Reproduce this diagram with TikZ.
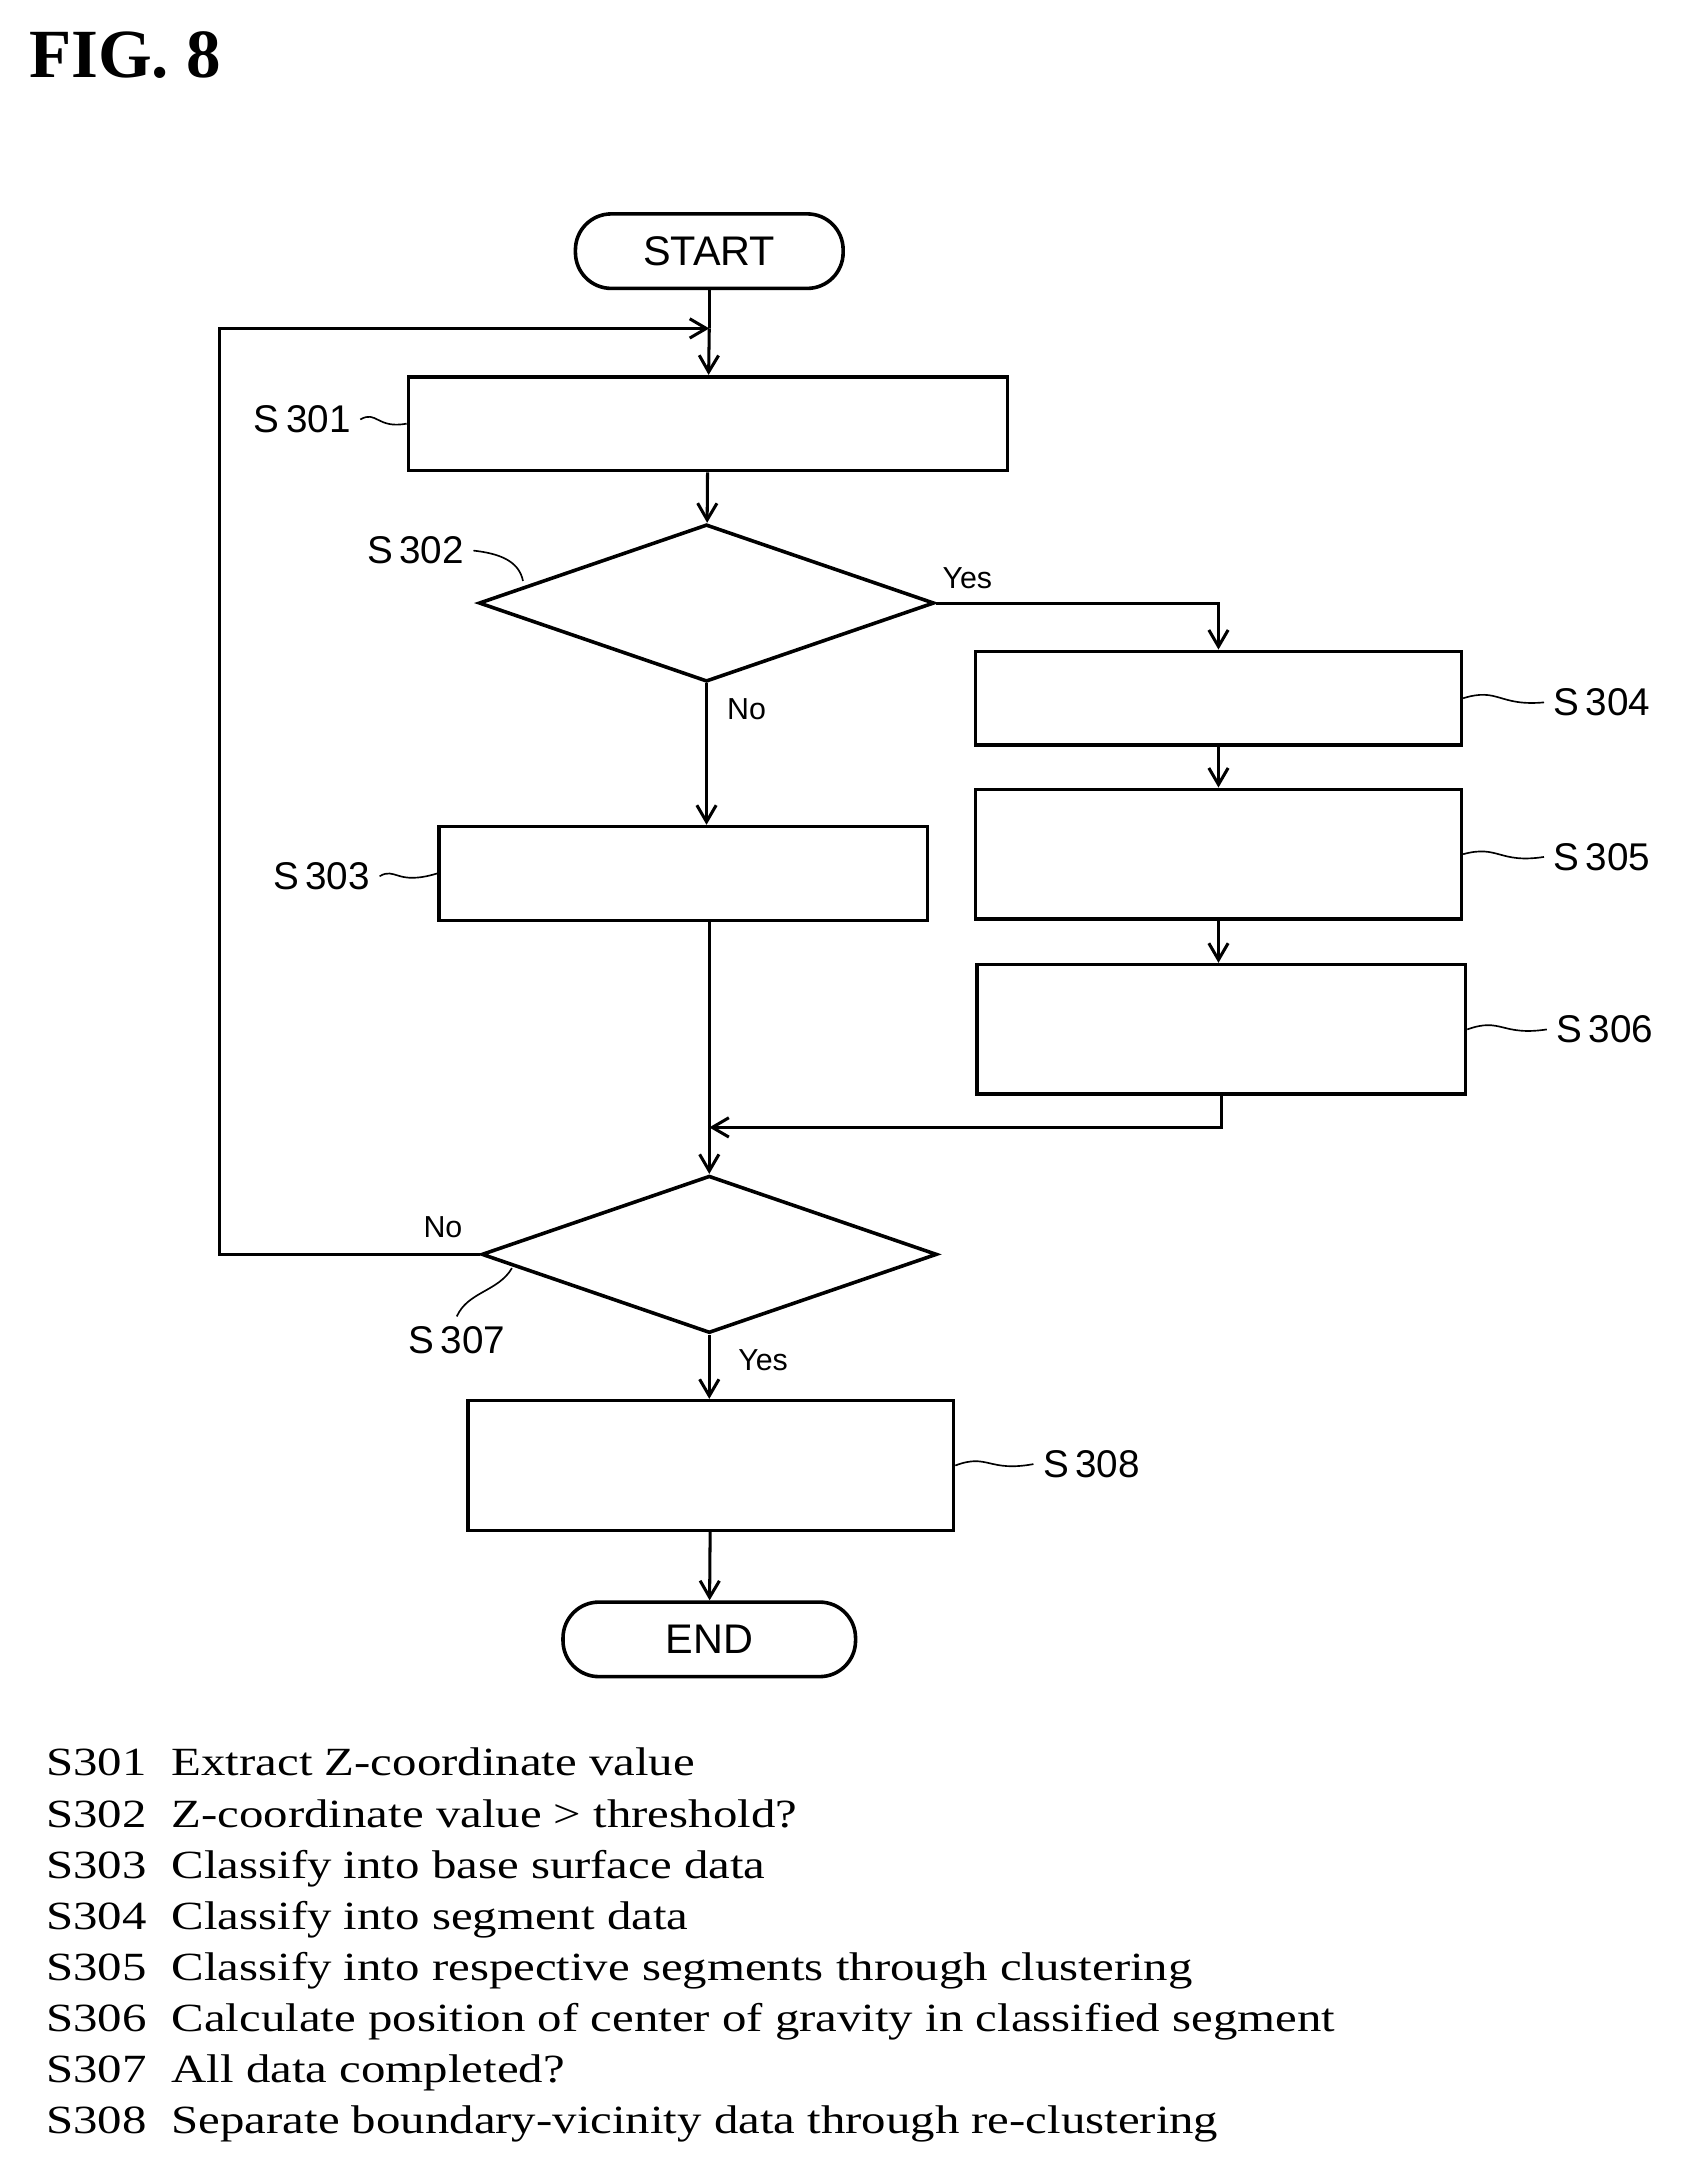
\documentclass[tikz,border=0pt]{standalone}
\usepackage{fontspec}
\setmainfont{Liberation Serif}
\setsansfont{Liberation Sans}
\newfontfamily\lstfont[FakeStretch=1.22]{Liberation Serif}
\usetikzlibrary{shapes.geometric,arrows.meta}
\begin{document}
\begin{tikzpicture}[x=0.5pt,y=-0.5pt,
  term/.style={draw,line width=1.3pt,rounded corners=13pt,minimum width=97pt,minimum height=27pt,font=\sffamily\fontsize{15}{15}\selectfont},
  dia/.style={draw,line width=1.3pt,diamond,aspect=2.9,minimum width=165pt,minimum height=57pt,inner sep=0},
  lab/.style={font=\sffamily\fontsize{14}{14}\selectfont},
  yn/.style={font=\sffamily\fontsize{11}{11}\selectfont},
  arr/.style={line width=1.1pt,-{Straight Barb[length=6pt,width=7pt]}},
  ln/.style={line width=1.1pt},
  tl/.style={line width=0.6pt},
  lst/.style={anchor=base west,inner sep=0,font=\lstfont\fontsize{14.5}{14.5}\selectfont}]
\useasboundingbox (0,0) rectangle (1220,1574);
\node[anchor=west,font=\bfseries\fontsize{25}{25}\selectfont] (fig) at (14,40) {FIG. 8};
\node[term] (start) at (514,182) {START};
\node[draw,line width=1.3pt,minimum width=217pt,minimum height=34pt] (s301) at (513,307) {};
\node[dia] (s302) at (512,437) {};
\node[draw,line width=1.3pt,minimum width=176pt,minimum height=34pt] (s304) at (883,506) {};
\node[draw,line width=1.3pt,minimum width=176pt,minimum height=47pt] (s305) at (883,619) {};
\node[draw,line width=1.3pt,minimum width=177pt,minimum height=47pt] (s306) at (885,746) {};
\node[draw,line width=1.3pt,minimum width=177pt,minimum height=34pt] (s303) at (495,633) {};
\node[dia] (s307) at (514,909) {};
\node[draw,line width=1.3pt,minimum width=176pt,minimum height=47pt] (s308) at (515,1062) {};
\node[term,minimum width=106pt] (end) at (514,1188) {END};
\coordinate (j1) at (514,238);
\coordinate (j2) at (514,817);
\draw[ln] (start) -- (j1);
\draw[arr] (j1) -- (s301);
\draw[arr] (s307.west) -- (159,909) -- (159,238) -- (j1);
\draw[arr] (s301) -- (s302);
\draw[arr] (s302.east) -| (s304.north);
\draw[arr] (s302.south) -- (s302.south |- s303.north);
\draw[arr] (s304) -- (s305);
\draw[arr] (s305) -- (s305 |- s306.north);
\draw[arr] (s303.south -| s307.north) -- (s307.north);
\draw[arr] (s306.south) -- (s306.south |- j2) -- (j2);
\draw[arr] (s307.south) -- (s307.south |- s308.north);
\draw[arr] (s308) -- (end);
\node[yn] (y1) at (701,419) {Yes};
\node[yn] (n1) at (541,514) {No};
\node[yn] (n2) at (321,889) {No};
\node[yn] (y2) at (553,986) {Yes};
\node[lab] (l301) at (219,304) {S\,301};
\node[lab] (l302) at (301,399) {S\,302};
\node[lab] (l303) at (233,635) {S\,303};
\node[lab] (l304) at (1161,509) {S\,304};
\node[lab] (l305) at (1161,621) {S\,305};
\node[lab] (l306) at (1163,746) {S\,306};
\node[lab] (l307) at (331,971) {S\,307};
\node[lab] (l308) at (791,1061) {S\,308};
\draw[tl] (l301.east) .. controls (273,297) and (273,311) .. (s301.west);
\draw[tl] (l303.east) .. controls (287,628) and (287,642) .. (s303.west);
\draw[tl] (s304.east) .. controls (1086,498) and (1086,512) .. (l304.west);
\draw[tl] (s305.east) .. controls (1086,612) and (1086,626) .. (l305.west);
\draw[tl] (s306.east) .. controls (1088,737) and (1088,751) .. (l306.west);
\draw[tl] (s308.east) .. controls (716,1053) and (716,1067) .. (l308.west);
\draw[tl] (l302.east) .. controls (361,401) and (376,406) .. (379,421);
\draw[tl] (l307.north) .. controls (339,936) and (361,936) .. (371,919);
\foreach \i/\t [count=\k from 0] in {S301/Extract Z-coordinate value,S302/Z-coordinate value > threshold?,S303/Classify into base surface data,S304/Classify into segment data,S305/Classify into respective segments through clustering,S306/Calculate position of center of gravity in classified segment,S307/All data completed?,S308/Separate boundary-vicinity data through re-clustering}{
  \node[lst] (n\i) at (33,1287+37*\k) {\i};
  \node[lst] (t\i) at (124,1287+37*\k) {\t};
}
\end{tikzpicture}
\end{document}
